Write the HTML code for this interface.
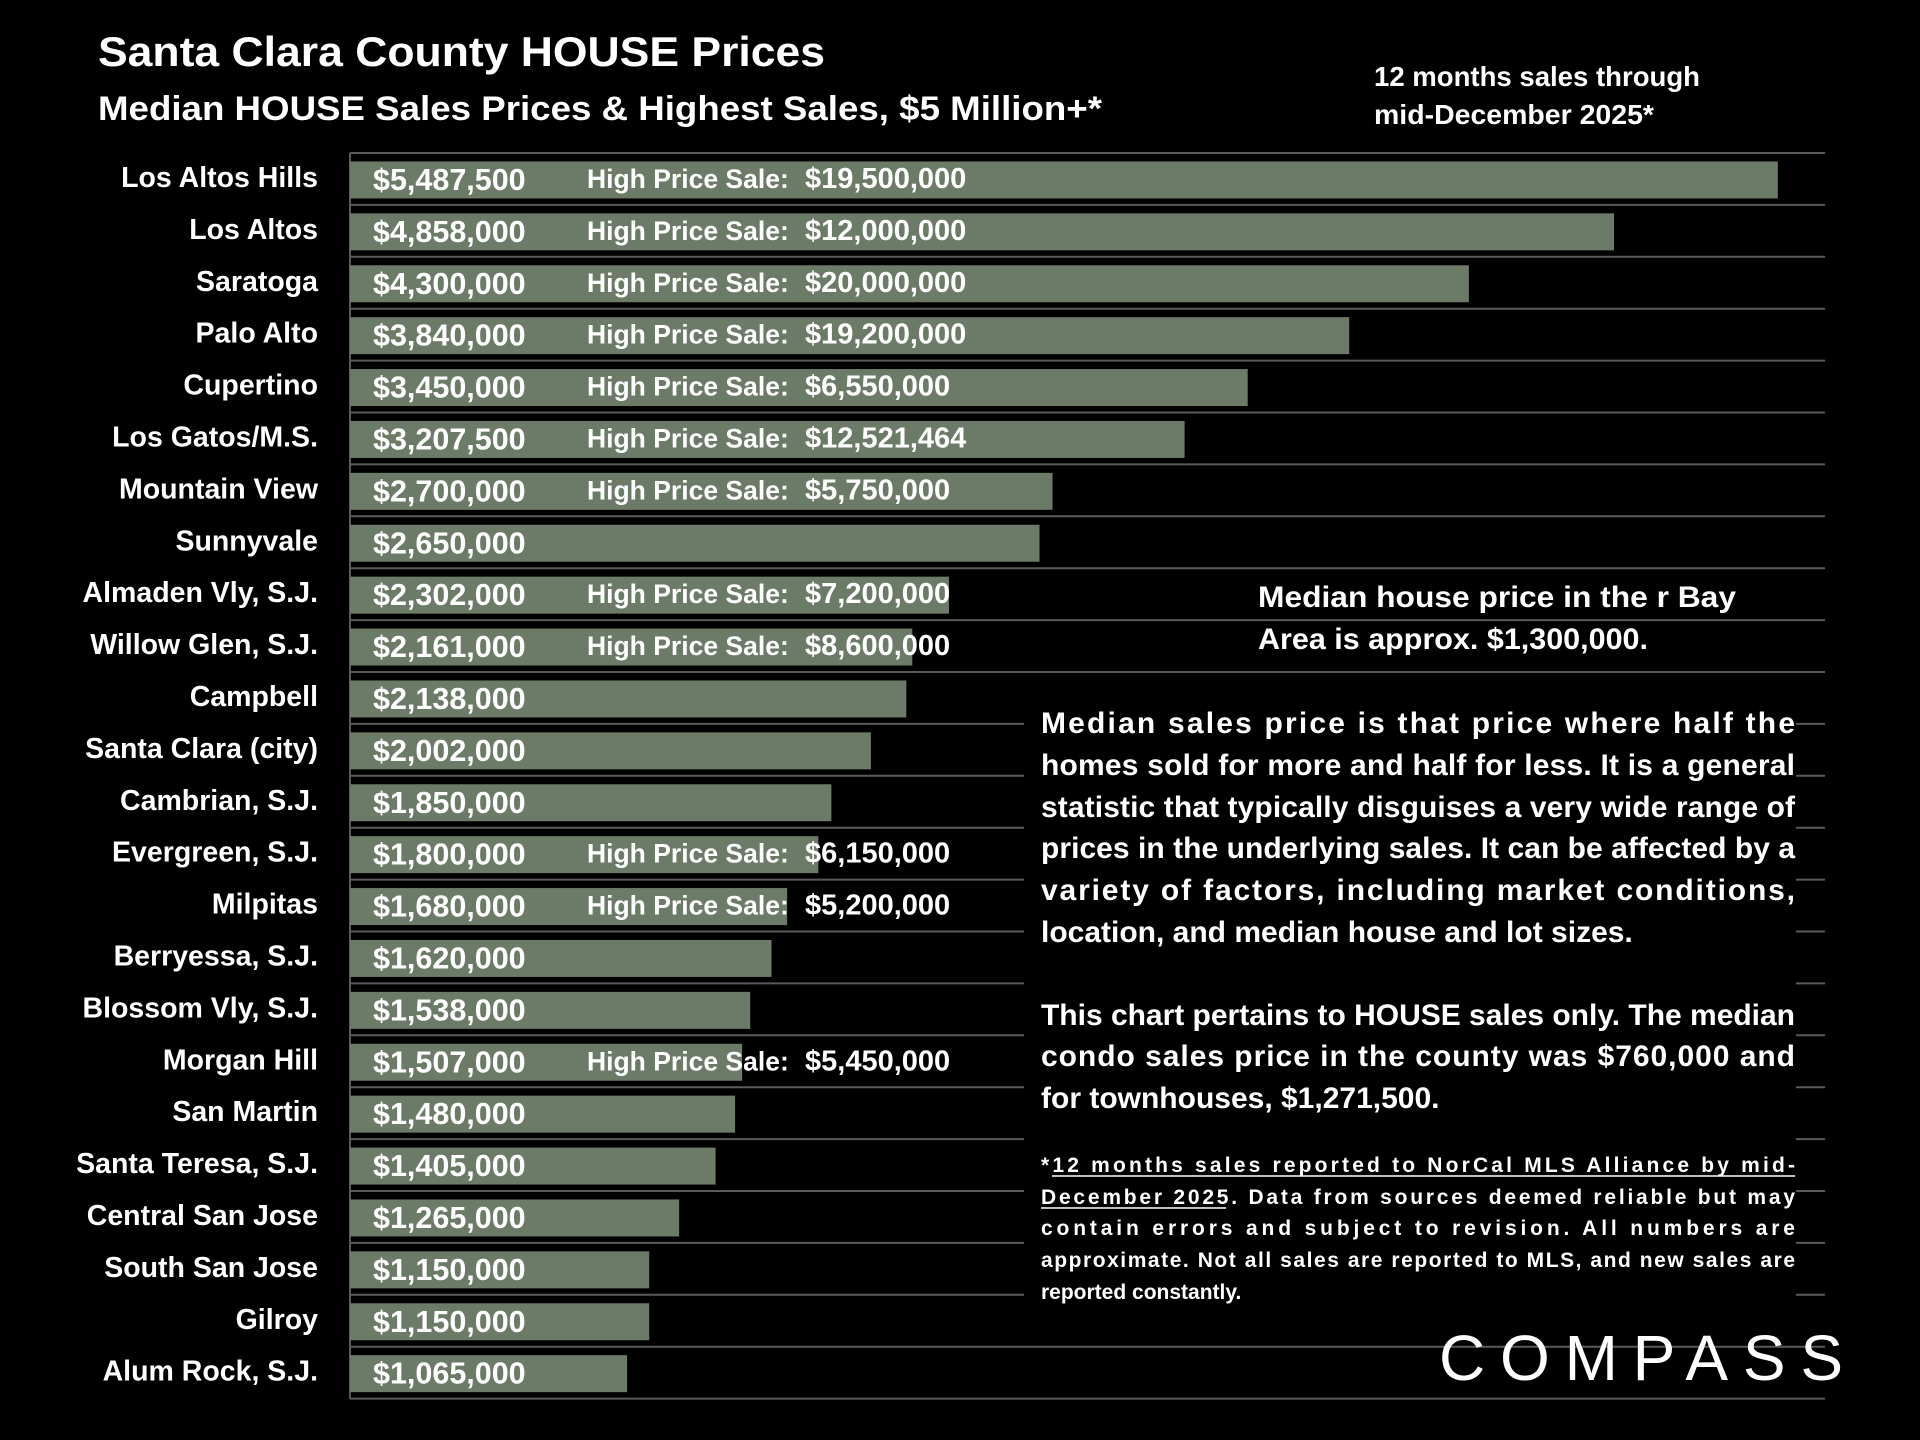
<!DOCTYPE html>
<html><head><meta charset="utf-8"><style>
html,body{margin:0;padding:0;background:#000;}
svg{display:block;font-family:"Liberation Sans",sans-serif;font-weight:bold;}
</style></head><body>
<svg id="chart" width="1920" height="1440" viewBox="0 0 1920 1440" xmlns="http://www.w3.org/2000/svg">
<rect width="1920" height="1440" fill="#000"/>
<text x="98" y="66" fill="#fff" font-size="42" textLength="727" lengthAdjust="spacingAndGlyphs">Santa Clara County HOUSE Prices</text>
<text x="98" y="120" fill="#fff" font-size="34" textLength="1004" lengthAdjust="spacingAndGlyphs">Median HOUSE Sales Prices &amp; Highest Sales, $5 Million+*</text>
<text fill="#fff" font-size="28">
<tspan x="1374" y="86" textLength="326" lengthAdjust="spacingAndGlyphs">12 months sales through</tspan>
<tspan x="1374" y="124" textLength="280" lengthAdjust="spacingAndGlyphs">mid-December 2025*</tspan></text>
<g id="grid"></g>
<g id="bars"></g>
<rect x="1024" y="690" width="772" height="645" fill="#000"/>
<text fill="#fff" font-size="30">
<tspan x="1258" y="607" textLength="478" lengthAdjust="spacingAndGlyphs">Median house price in the r Bay</tspan>
<tspan x="1258" y="649" textLength="390" lengthAdjust="spacingAndGlyphs">Area is approx. $1,300,000.</tspan></text>
<g id="para" fill="#fff" font-size="30"></g>
<g id="foot" fill="#fff" font-size="21"></g>
<text x="1439" y="1380" fill="#fff" font-size="64" font-weight="normal" textLength="404" lengthAdjust="spacing">COMPASS</text>
</svg>
<script>
const categories=["Los Altos Hills","Los Altos","Saratoga","Palo Alto","Cupertino","Los Gatos/M.S.","Mountain View","Sunnyvale","Almaden Vly, S.J.","Willow Glen, S.J.","Campbell","Santa Clara (city)","Cambrian, S.J.","Evergreen, S.J.","Milpitas","Berryessa, S.J.","Blossom Vly, S.J.","Morgan Hill","San Martin","Santa Teresa, S.J.","Central San Jose","South San Jose","Gilroy","Alum Rock, S.J."];
const medians=[5487500,4858000,4300000,3840000,3450000,3207500,2700000,2650000,2302000,2161000,2138000,2002000,1850000,1800000,1680000,1620000,1538000,1507000,1480000,1405000,1265000,1150000,1150000,1065000];
const highSales=[19500000,12000000,20000000,19200000,6550000,12521464,5750000,null,7200000,8600000,null,null,null,6150000,5200000,null,null,5450000,null,null,null,null,null,null];
const NS="http://www.w3.org/2000/svg";
const x0=350,pxPerM=260.2,top0=153,pitch=51.9,barH=37,gridEnd=1825;
const xs=v=>x0+v/1e6*pxPerM;
const yTop=i=>top0+i*pitch;
const fmt=v=>"$"+v.toLocaleString("en-US");
function mk(tag,attrs,parent,txt){const e=document.createElementNS(NS,tag);for(const k in attrs)e.setAttribute(k,attrs[k]);if(txt!=null)e.textContent=txt;parent.appendChild(e);return e;}
const grid=document.getElementById("grid"),bars=document.getElementById("bars");
for(let i=0;i<=categories.length;i++){
  const l=mk("line",{x1:x0,x2:gridEnd,y1:yTop(i),y2:yTop(i),stroke:"#5a5a5a","stroke-width":2},grid);
  
  
}
const ax=mk("line",{x1:x0,x2:x0,y1:top0,y2:yTop(categories.length),stroke:"#5a5a5a","stroke-width":2},grid);


categories.forEach((c,i)=>{
  const yt=yTop(i),yc=yt+pitch/2;
  const lab=mk("text",{x:318,y:yc+8,fill:"#fff","font-size":28.5,"text-anchor":"end"},bars,c);
  
  
  const b=mk("rect",{x:x0,y:yt+(pitch-barH)/2+1,width:xs(medians[i])-x0,height:barH,fill:"#6b7b67"},bars);
  
  
  const v=mk("text",{x:373,y:yc+11,fill:"#fff","font-size":30.5},bars,fmt(medians[i]));
  
  
  if(highSales[i]){
    const h=mk("text",{x:587,y:yc+9,fill:"#fff","font-size":26.5},bars,"High Price Sale:");
    
    
    const hv=mk("text",{x:805,y:yc+9,fill:"#fff","font-size":29},bars,fmt(highSales[i]));
    
    
  }
});
const para=document.getElementById("para");
const pl=[["Median sales price is that price where half the",733,1],["homes sold for more and half for less. It is a general",775,1],["statistic that typically disguises a very wide range of",817,1],["prices in the underlying sales. It can be affected by a",858,1],["variety of factors, including market conditions,",900,1],["location, and median house and lot sizes.",942,0],["This chart pertains to HOUSE sales only. The median",1025,1],["condo sales price in the county was $760,000 and",1066,1],["for townhouses, $1,271,500.",1108,0]];
pl.forEach(p=>{const a={x:1041,y:p[1]};if(p[2]){a.textLength=754;a.lengthAdjust="spacing";}
  const t=mk("text",a,para,p[0]);
  
  });
const foot=document.getElementById("foot");
const fl=[["*12 months sales reported to NorCal MLS Alliance by mid-",1172,1],["December 2025. Data from sources deemed reliable but may",1204,1],["contain errors and subject to revision. All numbers are",1235,1],["approximate. Not all sales are reported to MLS, and new sales are",1267,1],["reported constantly.",1299,0]];
fl.forEach(p=>{const a={x:1041,y:p[1]};if(p[2]){a.textLength=754;a.lengthAdjust="spacing";}
  const t=mk("text",a,foot,p[0]);
  
  });
const u1=mk("line",{x1:1052,x2:1795,y1:1176,y2:1176,stroke:"#fff","stroke-width":1.5},foot);


const u2=mk("line",{x1:1041,x2:1226,y1:1208,y2:1208,stroke:"#fff","stroke-width":1.5},foot);


</script>
</body></html>
